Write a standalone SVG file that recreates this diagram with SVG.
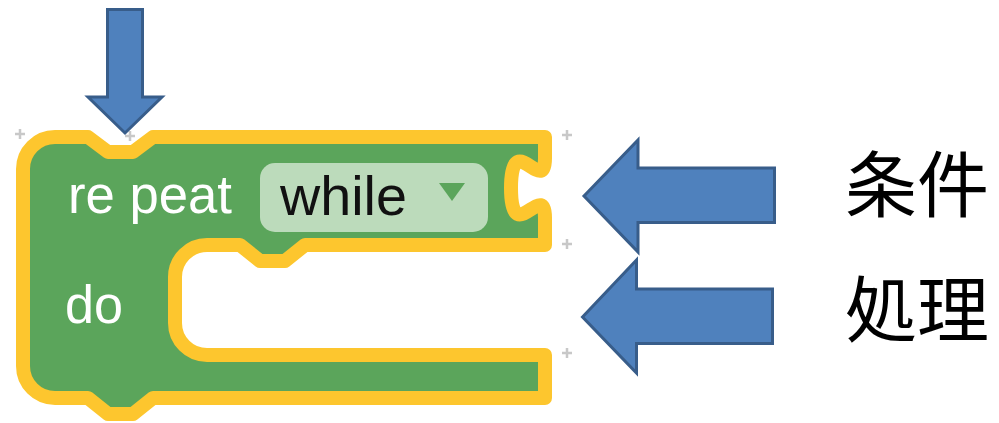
<svg xmlns="http://www.w3.org/2000/svg" width="999" height="423" viewBox="0 0 999 423">
<style>
.arrow{fill:#4f81bd;stroke:#385d8a;stroke-width:3;stroke-linejoin:miter}
.lbl{font-family:"Liberation Sans","DejaVu Sans",sans-serif;fill:#ffffff}
.jp{font-family:"Noto Sans CJK JP","Noto Sans CJK SC",sans-serif;font-size:72px;fill:#000000}
.plus{stroke:#c8c8c8;stroke-width:2.5;fill:none}
</style>
<rect width="999" height="423" fill="#ffffff"/>
<g id="grid">
<path class="plus" d="M15,134h10M20,129v10M125,136h10M130,131v10M562,135h10M567,130v10M562,244h10M567,239v10M562,353h10M567,348v10"/>
</g>
<g id="block">
<path d="M55,137 H88 L108,152 H133 L153,137 H545 V158 c0,40 -34,-32 -34,30 s34,-10 34,30 V245 H305 L285,261 H260 L240,245 H207 A32,32 0 0 0 175,277 V323 A32,32 0 0 0 207,355 H545 V398 H153 L133,414 H108 L88,398 H55 A32,32 0 0 1 23,366 V169 A32,32 0 0 1 55,137 Z" fill="#5ba55b" stroke="#fdc62e" stroke-width="14" stroke-linejoin="round"/>
<text class="lbl" x="68" y="213" font-size="54" textLength="164" lengthAdjust="spacingAndGlyphs">re peat</text>
<text class="lbl" x="65" y="323" font-size="54" textLength="58" lengthAdjust="spacingAndGlyphs">do</text>
</g>
<g id="dropdown">
<rect x="260" y="163" width="228" height="69" rx="15" ry="15" fill="#bcdbbb"/>
<text x="280" y="215" font-family="Liberation Sans, DejaVu Sans, sans-serif" font-size="56" fill="#111111" textLength="127" lengthAdjust="spacingAndGlyphs">while</text>
<polygon points="439,183 465,183 452,201" fill="#5ba55b"/>
</g>
<g id="connectors">
<polygon id="arrow-down" class="arrow" points="107.5,9.5 142.5,9.5 142.5,97 162,97 125,133 88,97 107.5,97"/>
<polygon id="arrow-cond" class="arrow" points="584,196 638,140 638,168 774.5,168 774.5,222.5 638,222.5 638,252"/>
<polygon id="arrow-proc" class="arrow" points="582.5,317 636.5,260 636.5,289 772.5,289 772.5,343.5 636.5,343.5 636.5,373"/>
</g>
<g id="label-cond"><text class="jp" x="845" y="211">条件</text></g>
<g id="label-proc"><text class="jp" x="845" y="336">処理</text></g>
</svg>
